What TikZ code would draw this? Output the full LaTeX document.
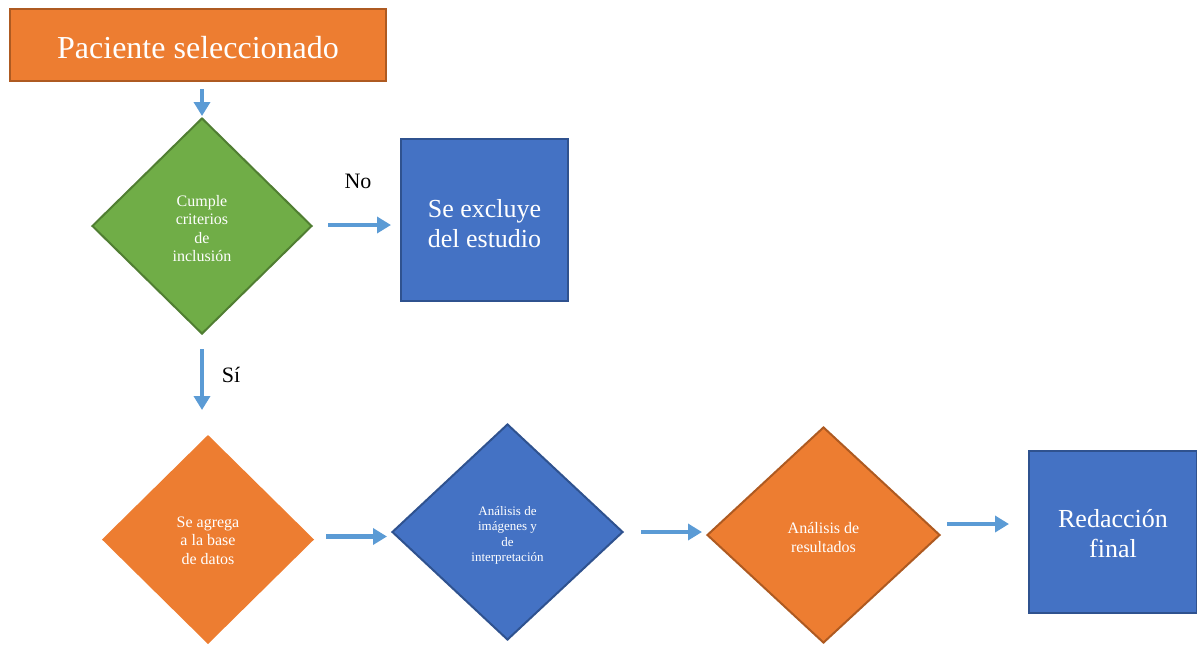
\documentclass[tikz,border=0pt]{standalone}
\usepackage{fontspec}
\setmainfont{Liberation Serif}
\usetikzlibrary{shapes.geometric,arrows.meta}
\definecolor{orfill}{HTML}{ED7D31}
\definecolor{ordraw}{HTML}{AE5A21}
\definecolor{grfill}{HTML}{70AD47}
\definecolor{grdraw}{HTML}{507E32}
\definecolor{blfill}{HTML}{4472C4}
\definecolor{bldraw}{HTML}{2F528F}
\definecolor{arrowc}{HTML}{5B9BD5}
\tikzset{
  boxnode/.style={rectangle, line width=2pt, inner sep=0pt},
  dianode/.style={diamond, line width=2pt, inner sep=0pt},
  txt/.style={text=white, align=center, inner sep=0pt},
  conn/.style={draw=arrowc, line width=4.3pt, -{Triangle[length=14pt,width=16pt]}},
  lbl/.style={font=\fontsize{22}{26}\selectfont, inner sep=0pt}
}
\begin{document}
\begin{tikzpicture}[x=1pt,y=-1pt]
\useasboundingbox (0,0) rectangle (1197,646);
% shapes
\node[boxnode, fill=orfill, draw=ordraw, minimum width=376pt, minimum height=72pt] (start) at (198,45) {};
\node[dianode, fill=grfill, draw=grdraw, minimum width=220pt, minimum height=216pt] (d1) at (202,226) {};
\node[boxnode, fill=blfill, draw=bldraw, minimum width=167pt, minimum height=162pt] (excl) at (484.5,220) {};
\node[dianode, fill=orfill, draw=orfill, minimum width=210pt, minimum height=207pt] (d2) at (208,539.5) {};
\node[dianode, fill=blfill, draw=bldraw, minimum width=231pt, minimum height=216pt] (d3) at (507.5,532) {};
\node[dianode, fill=orfill, draw=ordraw, minimum width=233pt, minimum height=216pt] (d4) at (823.5,535) {};
\node[boxnode, fill=blfill, draw=bldraw, minimum width=168pt, minimum height=162pt] (fin) at (1113,532) {};
% texts
\node[txt, font=\fontsize{32}{36}\selectfont] (startt) at ([yshift=-3pt]start.center) {Paciente seleccionado};
\node[txt, font=\fontsize{16}{18.5}\selectfont] (d1t) at ([yshift=-2.5pt]d1.center) {Cumple\\criterios\\de\\inclusión};
\node[txt, font=\fontsize{26}{30}\selectfont] (exclt) at ([yshift=-4pt]excl.center) {Se excluye\\del estudio};
\node[txt, font=\fontsize{16}{18.5}\selectfont] (d2t) at ([yshift=-1pt]d2.center) {Se agrega\\a la base\\de datos};
\node[txt, font=\fontsize{13}{15.5}\selectfont] (d3t) at ([yshift=-3.5pt]d3.center) {Análisis de\\imágenes y\\de\\interpretación};
\node[txt, font=\fontsize{16}{19}\selectfont] (d4t) at ([yshift=-2.5pt]d4.center) {Análisis de\\resultados};
\node[txt, font=\fontsize{26}{30}\selectfont] (fint) at ([yshift=-1.5pt]fin.center) {Redacción\\final};
\node[lbl] (no) at (358,181) {No};
\node[lbl] (si) at (231,375) {Sí};
% connectors
\draw[conn, shorten <=7pt, shorten >=1pt] (start.south -| d1.north) -- (d1.north);
\draw[conn, shorten <=15pt, shorten >=9pt] ([yshift=1pt]d1.east) -- ([yshift=1pt]d1.east -| excl.west);
\draw[conn, shorten <=14pt, shorten >=25pt] (d1.south) -- (d1.south |- d2.north);
\draw[conn, shorten <=12pt, shorten >=4pt] ([yshift=3pt]d2.east) -- ([yshift=3pt]d2.east -| d3.west);
\draw[conn, shorten <=17pt, shorten >=4pt] (d3.east) -- (d3.east -| d4.west);
\draw[conn, shorten <=6pt, shorten >=19pt] ([yshift=11pt]d4.east) -- ([yshift=11pt]d4.east -| fin.west);
\end{tikzpicture}
\end{document}
